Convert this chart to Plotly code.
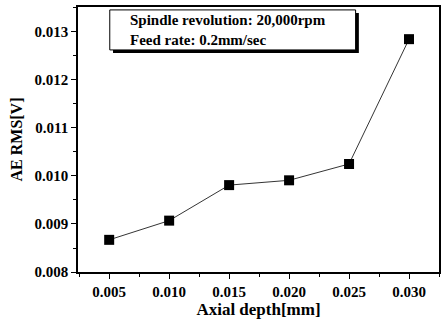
import plotly.graph_objects as go

# Axial depth of cut [mm] and measured AE RMS [V]
axial_depth = [0.005, 0.010, 0.015, 0.020, 0.025, 0.030]
ae_rms = [0.00867, 0.00907, 0.00981, 0.00991, 0.01025, 0.01285]

x_ticks = [0.005, 0.010, 0.015, 0.020, 0.025, 0.030]
x_tick_labels = ["0.005", "0.010", "0.015", "0.020", "0.025", "0.030"]
y_ticks = [0.008, 0.009, 0.010, 0.011, 0.012, 0.013]
y_tick_labels = ["0.008", "0.009", "0.010", "0.011", "0.012", "0.013"]

condition_lines = ["Spindle revolution: 20,000rpm", "Feed rate: 0.2mm/sec"]

FONT = "Liberation Serif"

fig = go.Figure()
fig.add_trace(go.Scatter(
    x=axial_depth, y=ae_rms, mode="lines+markers",
    line=dict(color="black", width=0.8),
    marker=dict(symbol="square", size=10, color="black"),
    showlegend=False,
))

axis_common = dict(
    showline=True, linecolor="black", linewidth=1.5, mirror=True,
    showgrid=False, zeroline=False, ticks="outside", ticklen=5,
    tickwidth=1, tickcolor="black",
    tickfont=dict(family=FONT, size=15, color="black"),
)

fig.update_xaxes(
    range=[0.0024, 0.0325], tickvals=x_ticks,
    ticktext=[f"<b>{t}</b>" for t in x_tick_labels],
    minor=dict(ticks="outside", ticklen=3, tickcolor="black", dtick=0.0025,
               tick0=0.0025),
    title=dict(text="<b>Axial depth[mm]</b>", font=dict(family=FONT, size=17, color="black"),
               standoff=1),
    **axis_common,
)
fig.update_yaxes(
    range=[0.008, 0.01352], tickvals=y_ticks,
    ticktext=[f"<b>{t}</b>" for t in y_tick_labels],
    minor=dict(ticks="outside", ticklen=3, tickcolor="black", dtick=0.0005,
               tick0=0.0085),
    title=dict(text="<b>AE RMS[V]</b>", font=dict(family=FONT, size=16, color="black"),
               standoff=8),
    **axis_common,
)

# condition box with drop shadow
box = dict(x0=0.088, x1=0.769, y0=0.838, y1=0.989)
sh = 0.009
fig.add_shape(type="rect", xref="paper", yref="paper",
              x0=box["x0"] + sh, x1=box["x1"] + sh, y0=box["y0"] - 0.012, y1=box["y1"] - 0.012,
              fillcolor="black", line=dict(width=0))
fig.add_shape(type="rect", xref="paper", yref="paper",
              x0=box["x0"], x1=box["x1"], y0=box["y0"], y1=box["y1"],
              fillcolor="white", line=dict(color="black", width=1))
fig.add_annotation(
    xref="paper", yref="paper", x=box["x0"] + 0.05, y=(box["y0"] + box["y1"]) / 2,
    xanchor="left", yanchor="middle", align="left", showarrow=False,
    text="<br>".join(f"<b>{t}</b>" for t in condition_lines),
    font=dict(family=FONT, size=15, color="black"),
)

fig.update_layout(
    width=443, height=325,
    margin=dict(l=78, r=2, t=7, b=53),
    paper_bgcolor="white", plot_bgcolor="white",
)

fig.write_html("out.html")
